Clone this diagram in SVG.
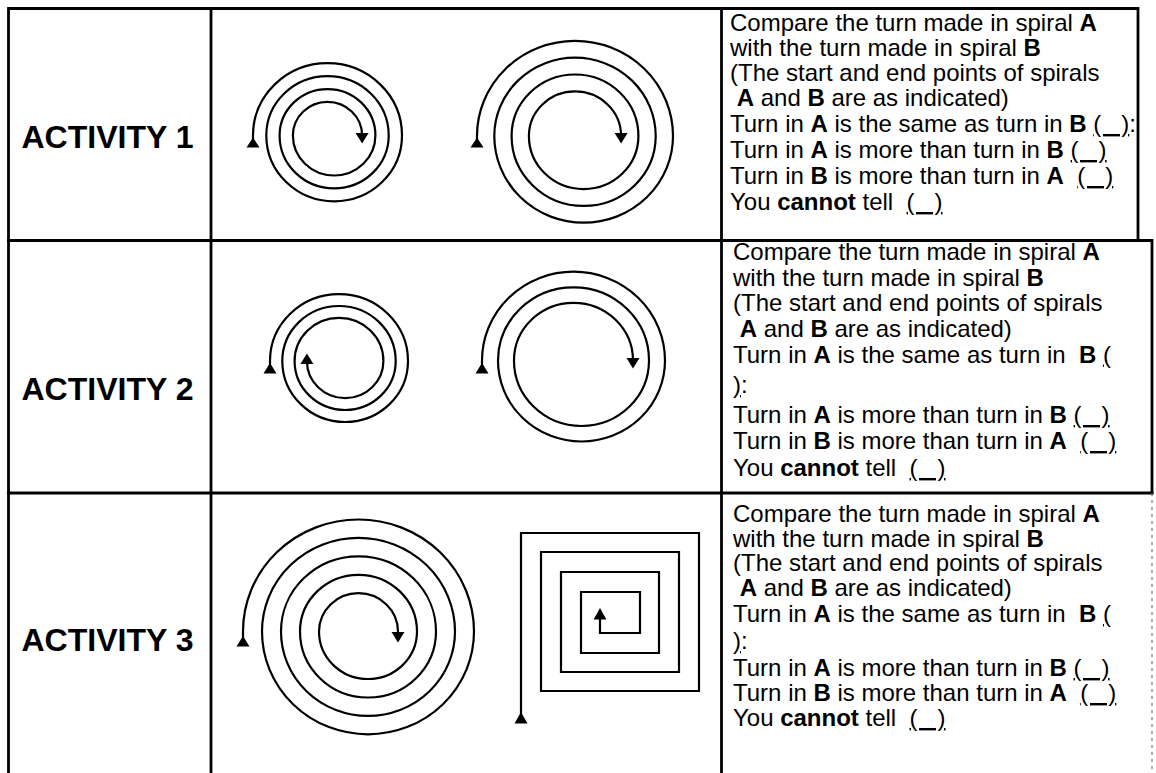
<svg xmlns="http://www.w3.org/2000/svg" width="1156" height="773" viewBox="0 0 1156 773">
<style>
.frame{stroke:#000;stroke-width:2.8;fill:none;stroke-linecap:square}
.faint{stroke:#777;stroke-width:1.2;fill:none;stroke-dasharray:3 4}
.sp{stroke:#000;stroke-width:2.2;fill:none;stroke-linejoin:miter}
.ah{fill:#000;stroke:none}
.lbl{font-family:"Liberation Sans",Arial,Helvetica,sans-serif;font-weight:bold;font-size:31px;fill:#000}
.q{font-family:"Liberation Sans",Arial,Helvetica,sans-serif;font-size:24px;fill:#000}
.b{font-weight:bold}
.u{text-decoration:underline}
</style>
<rect width="1156" height="773" fill="#fff"/>
<g id="table">
<path class="frame" d="M8.5,773 V8.5 H1138 V240.5"/>
<path class="frame" d="M211,8.5 V773"/>
<path class="frame" d="M721.5,8.5 V773"/>
<path class="frame" d="M8.5,240.5 H1152 V493"/>
<path class="frame" d="M8.5,493 H1152"/>
<path class="faint" d="M1152,493 V773"/>
</g>
<g id="activity1">
<text class="lbl" x="21.5" y="148" textLength="172" lengthAdjust="spacingAndGlyphs">ACTIVITY 1</text>
<g id="spiral1A">
<path class="sp" d="M253,141 L253,135.5 A74.5,72.3 0 0 1 402,135.5 A67.85,65.8 0 0 1 266.3,135.5 A61.2,59.4 0 0 1 388.7,135.5 A54.55,52.9 0 0 1 279.6,135.5 A47.9,46.5 0 0 1 375.4,135.5 A41.25,40 0 0 1 292.9,135.5 A34.6,33.6 0 0 1 362.1,135.5 L362.1,138"/>
<path class="ah" d="M246.5,147.5 L259.5,147.5 L253,137.5 Z"/>
<path class="ah" d="M355.6,133 L368.6,133 L362.1,143.5 Z"/>
</g>
<g id="spiral1B">
<path class="sp" d="M477,141 L477,136 A98,95.1 0 0 1 673,136 A89.35,86.7 0 0 1 494.3,136 A80.7,78.3 0 0 1 655.7,136 A72.05,69.9 0 0 1 511.6,136 A63.4,61.5 0 0 1 638.4,136 A54.75,53.1 0 0 1 528.9,136 A46.1,44.7 0 0 1 621.1,136 L621.1,138"/>
<path class="ah" d="M470.5,147.5 L483.5,147.5 L477,137.5 Z"/>
<path class="ah" d="M614.6,133 L627.6,133 L621.1,143.5 Z"/>
</g>
<g id="question1">
<text class="q" xml:space="preserve" x="730" y="31">Compare the turn made in spiral <tspan class="b">A</tspan></text>
<text class="q" xml:space="preserve" x="730" y="56">with the turn made in spiral <tspan class="b">B</tspan></text>
<text class="q" xml:space="preserve" x="730" y="81">(The start and end points of spirals</text>
<text class="q" xml:space="preserve" x="730" y="106"> <tspan class="b">A</tspan> and <tspan class="b">B</tspan> are as indicated)</text>
<text class="q" xml:space="preserve" x="730" y="132">Turn in <tspan class="b">A</tspan> is the same as turn in <tspan class="b">B</tspan> <tspan class="u">(   )</tspan>:</text>
<text class="q" xml:space="preserve" x="730" y="158">Turn in <tspan class="b">A</tspan> is more than turn in <tspan class="b">B</tspan> <tspan class="u">(   )</tspan></text>
<text class="q" xml:space="preserve" x="730" y="184">Turn in <tspan class="b">B</tspan> is more than turn in <tspan class="b">A</tspan>  <tspan class="u">(   )</tspan></text>
<text class="q" xml:space="preserve" x="730" y="210">You <tspan class="b">cannot</tspan> tell  <tspan class="u">(   )</tspan></text>
</g>
</g>
<g id="activity2">
<text class="lbl" x="21.5" y="400" textLength="172" lengthAdjust="spacingAndGlyphs">ACTIVITY 2</text>
<g id="spiral2A">
<path class="sp" d="M270,366 L270,361 A69,66.9 0 0 1 408,361 A62.85,61 0 0 1 282.3,361 A56.7,55 0 0 1 395.7,361 A50.55,49 0 0 1 294.6,361 A44.4,43.1 0 0 1 383.4,361 A38.25,37.1 0 0 1 306.9,361 L306.9,358"/>
<path class="ah" d="M263.5,373.5 L276.5,373.5 L270,363 Z"/>
<path class="ah" d="M300.4,364 L313.4,364 L306.9,353.5 Z"/>
</g>
<g id="spiral2B">
<path class="sp" d="M482,366 L482,360.5 A91.5,88.8 0 0 1 665,360.5 A83.5,81 0 0 1 498,360.5 A75.5,73.2 0 0 1 649,360.5 A67.5,65.5 0 0 1 514,360.5 A59.5,57.7 0 0 1 633,360.5 L633,363"/>
<path class="ah" d="M475.5,373.5 L488.5,373.5 L482,363 Z"/>
<path class="ah" d="M626.5,358 L639.5,358 L633,368.5 Z"/>
</g>
<g id="question2">
<text class="q" xml:space="preserve" x="733" y="260">Compare the turn made in spiral <tspan class="b">A</tspan></text>
<text class="q" xml:space="preserve" x="733" y="285.5">with the turn made in spiral <tspan class="b">B</tspan></text>
<text class="q" xml:space="preserve" x="733" y="311">(The start and end points of spirals</text>
<text class="q" xml:space="preserve" x="733" y="336.5"> <tspan class="b">A</tspan> and <tspan class="b">B</tspan> are as indicated)</text>
<text class="q" xml:space="preserve" x="733" y="362.5">Turn in <tspan class="b">A</tspan> is the same as turn in  <tspan class="b">B</tspan> <tspan class="u">(</tspan></text>
<text class="q" xml:space="preserve" x="733" y="393"><tspan class="u">)</tspan>:</text>
<text class="q" xml:space="preserve" x="733" y="423">Turn in <tspan class="b">A</tspan> is more than turn in <tspan class="b">B</tspan> <tspan class="u">(   )</tspan></text>
<text class="q" xml:space="preserve" x="733" y="449">Turn in <tspan class="b">B</tspan> is more than turn in <tspan class="b">A</tspan>  <tspan class="u">(   )</tspan></text>
<text class="q" xml:space="preserve" x="733" y="476">You <tspan class="b">cannot</tspan> tell  <tspan class="u">(   )</tspan></text>
</g>
</g>
<g id="activity3">
<text class="lbl" x="21.5" y="651" textLength="172" lengthAdjust="spacingAndGlyphs">ACTIVITY 3</text>
<g id="spiral3A">
<path class="sp" d="M243,640 L243,631.5 A115.5,112 0 0 1 474,631.5 A106,102.8 0 0 1 262,631.5 A96.5,93.6 0 0 1 455,631.5 A87,84.4 0 0 1 281,631.5 A77.5,75.2 0 0 1 436,631.5 A68,66 0 0 1 300,631.5 A58.5,56.7 0 0 1 417,631.5 A49,47.5 0 0 1 319,631.5 A39.5,38.3 0 0 1 398,631.5 L398,634"/>
<path class="ah" d="M236.5,646.5 L249.5,646.5 L243,636 Z"/>
<path class="ah" d="M391.5,632 L404.5,632 L398,642.5 Z"/>
</g>
<g id="spiral3B">
<path class="sp" d="M521,716 V533 H699 V691 H541 V552 H679 V672 H561 V572 H659 V653 H581 V592 H640 V633 H600 V614"/>
<path class="ah" d="M514.5,723.5 L527.5,723.5 L521,712 Z"/>
<path class="ah" d="M593.5,619.5 L606.5,619.5 L600,608 Z"/>
</g>
<g id="question3">
<text class="q" xml:space="preserve" x="733" y="522">Compare the turn made in spiral <tspan class="b">A</tspan></text>
<text class="q" xml:space="preserve" x="733" y="546.5">with the turn made in spiral <tspan class="b">B</tspan></text>
<text class="q" xml:space="preserve" x="733" y="571">(The start and end points of spirals</text>
<text class="q" xml:space="preserve" x="733" y="596"> <tspan class="b">A</tspan> and <tspan class="b">B</tspan> are as indicated)</text>
<text class="q" xml:space="preserve" x="733" y="622">Turn in <tspan class="b">A</tspan> is the same as turn in  <tspan class="b">B</tspan> <tspan class="u">(</tspan></text>
<text class="q" xml:space="preserve" x="733" y="649"><tspan class="u">)</tspan>:</text>
<text class="q" xml:space="preserve" x="733" y="676">Turn in <tspan class="b">A</tspan> is more than turn in <tspan class="b">B</tspan> <tspan class="u">(   )</tspan></text>
<text class="q" xml:space="preserve" x="733" y="701">Turn in <tspan class="b">B</tspan> is more than turn in <tspan class="b">A</tspan>  <tspan class="u">(   )</tspan></text>
<text class="q" xml:space="preserve" x="733" y="726">You <tspan class="b">cannot</tspan> tell  <tspan class="u">(   )</tspan></text>
</g>
</g>
</svg>
